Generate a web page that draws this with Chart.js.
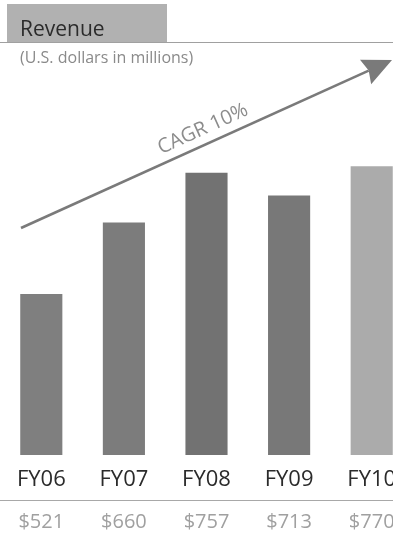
<!DOCTYPE html>
<html>
<head>
<meta charset="utf-8">
<script src="https://cdn.jsdelivr.net/npm/chart.js@4"></script>
<style>
  html, body { margin: 0; padding: 0; background: #fff; }
  body { width: 393px; height: 535px; overflow: hidden; position: relative; font-family: "Open Sans", "Noto Sans", sans-serif; }
  #titleBox { position: absolute; left: 7px; top: 4px; width: 160px; height: 38px; background: #b1b1b1; }
  #titleText { position: absolute; left: 13px; top: 11px; font-size: 21px; line-height: 26px; color: #2b2b2b; }
  #rule { position: absolute; left: 0; top: 42px; width: 393px; height: 1px; background: #a0a0a0; }
  #subtitle { position: absolute; left: 20px; top: 46px; font-size: 16px; line-height: 22px; color: #8a8a8a; }
  #wrap { position: absolute; left: 0; top: 0; width: 413px; height: 535px; }
</style>
</head>
<body>
<div id="wrap"><canvas id="chart" width="413" height="535"></canvas></div>
<div id="titleBox"><span id="titleText">Revenue</span></div>
<div id="rule"></div>
<div id="subtitle">(U.S. dollars in millions)</div>
<script>
// Fiscal-year revenue, U.S. dollars in millions
const categories = ["FY06", "FY07", "FY08", "FY09", "FY10"];
const revenue = [521, 660, 757, 713, 770];
const cagrLabel = "CAGR 10%";

// value axis window (bars sit on a truncated baseline)
const axisMin = 207;
const axisMax = 977;

const barColors = ["#7f7f7f", "#7c7c7c", "#727272", "#787878", "#ababab"];

const labelsPlugin = {
  id: "revenueLabels",
  afterDraw(chart) {
    const ctx = chart.ctx;
    const x = chart.scales.x;
    ctx.save();

    // growth arrow
    const x0 = 21, y0 = 228, x1 = 392, y1 = 60;
    const ang = Math.atan2(y1 - y0, x1 - x0);
    const headLen = 32, headHalf = 25 * Math.PI / 180;
    const baseX = x1 - Math.cos(ang) * headLen * 0.8;
    const baseY = y1 - Math.sin(ang) * headLen * 0.8;
    ctx.strokeStyle = "#7a7a7a";
    ctx.lineWidth = 2.6;
    ctx.beginPath();
    ctx.moveTo(x0, y0);
    ctx.lineTo(baseX, baseY);
    ctx.stroke();
    ctx.fillStyle = "#7a7a7a";
    ctx.beginPath();
    ctx.moveTo(x1, y1);
    ctx.lineTo(x1 - Math.cos(ang - headHalf) * headLen, y1 - Math.sin(ang - headHalf) * headLen);
    ctx.lineTo(baseX, baseY);
    ctx.lineTo(x1 - Math.cos(ang + headHalf) * headLen, y1 - Math.sin(ang + headHalf) * headLen);
    ctx.closePath();
    ctx.fill();

    // CAGR text along the arrow
    ctx.save();
    ctx.translate(203, 129);
    ctx.rotate(ang);
    ctx.fillStyle = "#8c8c8c";
    ctx.font = "20px 'Open Sans', 'Noto Sans', sans-serif";
    ctx.textAlign = "center";
    ctx.textBaseline = "middle";
    ctx.fillText(cagrLabel, 0, 0);
    ctx.restore();

    // category labels
    ctx.fillStyle = "#2b2b2b";
    ctx.font = "22px 'Open Sans', 'Noto Sans', sans-serif";
    ctx.textAlign = "center";
    ctx.textBaseline = "middle";
    categories.forEach((c, i) => ctx.fillText(c, x.getPixelForValue(i), 480));

    // separator
    ctx.strokeStyle = "#a8a8a8";
    ctx.lineWidth = 1;
    ctx.beginPath();
    ctx.moveTo(0, 500.5);
    ctx.lineTo(chart.width, 500.5);
    ctx.stroke();

    // value labels
    ctx.fillStyle = "#a0a0a0";
    ctx.font = "20px 'Open Sans', 'Noto Sans', sans-serif";
    revenue.forEach((v, i) => ctx.fillText("$" + v, x.getPixelForValue(i), 522));

    ctx.restore();
  }
};

new Chart(document.getElementById("chart"), {
  type: "bar",
  data: {
    labels: categories,
    datasets: [{
      data: revenue,
      backgroundColor: barColors,
      borderWidth: 0,
      categoryPercentage: 1,
      barPercentage: 0.51
    }]
  },
  options: {
    responsive: false,
    animation: false,
    devicePixelRatio: 1,
    layout: { padding: { top: 60, bottom: 80, left: 0, right: 0 } },
    plugins: { legend: { display: false }, tooltip: { enabled: false } },
    scales: {
      x: { display: false },
      y: { display: false, min: axisMin, max: axisMax }
    }
  },
  plugins: [labelsPlugin]
});
</script>
</body>
</html>
